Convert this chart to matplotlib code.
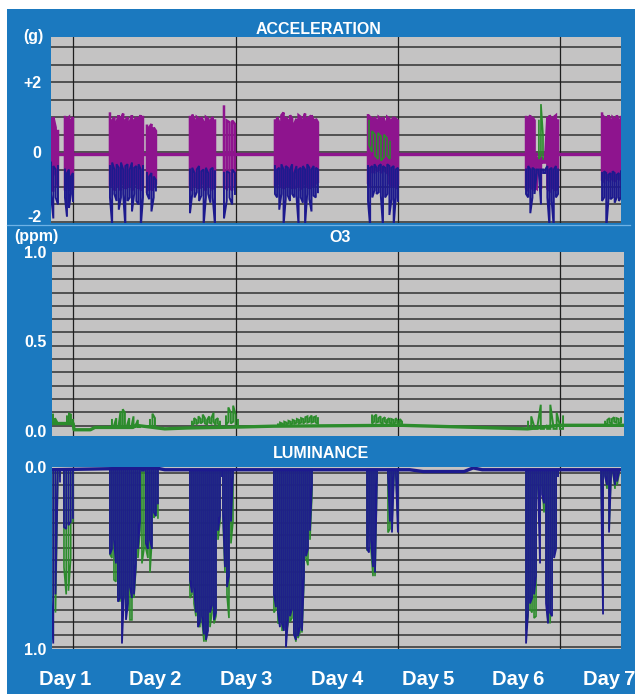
import numpy as np
import matplotlib as mpl
mpl.use("Agg")
import matplotlib.pyplot as plt
from matplotlib.patches import Rectangle
from matplotlib.lines import Line2D

plt.rcParams["font.family"] = ["Liberation Sans", "DejaVu Sans"]

# ---------------- data (time in days) ----------------
DAY_POS = [1, 2, 3, 4, 5, 6, 7]
DAY_LABELS = ["Day\u20091", "Day\u20092", "Day\u20093", "Day\u20094", "Day\u20095", "Day\u20096", "Day\u20097"]

# acceleration (g): resting level and active bursts (per-sample high / low)
ACC_REST = -0.05
ACC_SPANS = [(0.846, 0.923), (1.000, 1.088), (1.496, 1.860), (1.904, 2.003),
             (2.378, 2.654), (2.753, 2.874), (3.315, 3.789), (4.341, 4.671),
             (6.083, 6.436), (6.921, 7.130)]
MAG_HI = [
    [0.95, 1.0, 0.7, 0.6],
    [1.0, 0.95, 1.0, 0.9, 1.0],
    [1.1, 0.9, 1.0, 0.85, 1.05, 0.95, 1.1, 0.9, 1.0, 0.85, 1.05, 0.9, 1.0, 0.95, 1.05, 1.0],
    [0.75, 0.7, 0.8, 0.7, 0.6],
    [1.0, 1.07, 0.9, 1.0, 0.95, 1.0, 0.85, 1.0, 0.95, 0.9, 1.0, 0.9],
    [1.3, 0.9, 0.85, 0.9, 0.8],
    [0.9, 1.0, 0.85, 1.05, 1.13, 1.0, 0.9, 1.05, 0.95, 0.8, 0.95, 1.05, 1.0, 0.9, 1.1,
     0.95, 1.0, 1.05, 0.9, 0.95, 0.85],
    [1.05, 1.0, 0.95, 1.0, 0.9, 1.0, 0.95, 1.0, 0.85, 1.0, 0.95, 0.9, 1.0, 0.95, 0.9],
    [1.0, 0.95, 1.05, 1.0, 0.9, -0.15, -0.2, -0.15, -0.2, -0.15, 1.0, 1.05, 0.95, 1.0, 1.05, 0.9],
    [1.1, 1.0, 0.95, 1.05, 0.9, 1.0, 0.95, 1.05, 0.9, 1.0],
]
MAG_LO = [
    [-1.1, -1.1, -0.6, -1.0],
    [-1.1, -1.0, -1.1, -1.0, -1.05],
    [-1.0, -0.9, -1.1, -0.95, -1.0, -1.1, -0.9, -1.05, -1.0, -0.95, -1.1, -1.0, -0.9, -1.05, -1.1, -1.0],
    [-1.1, -1.05, -1.1, -1.0, -0.9],
    [-1.0, -1.1, -0.95, -1.0, -1.05, -0.9, -1.0, -1.1, -0.95, -1.0, -1.05, -1.0],
    [-1.0, -1.05, -1.0, -1.1, -0.95],
    [-0.95, -1.0, -0.9, -1.0, -1.05, -0.95, -1.0, -0.9, -1.05, -0.7, -1.0, -0.95, -1.05, -1.0, -0.9,
     -1.0, -1.05, -0.95, -1.0, -0.9, -0.85],
    [-0.9, -1.0, -0.6, -0.5, -0.55, -0.5, -0.6, -0.5, -0.55, -0.6, -0.9, -1.0, -0.95, -1.0, -0.9],
    [-1.05, -1.1, -1.0, -1.05, -1.0, -1.05, -0.3, -1.05, -0.3, -0.3, -1.05, -1.1, -1.0, -1.05, -1.1, -1.0],
    [-0.8, -0.85, -0.75, -0.8, -0.7, -0.8, -0.85, -0.75, -0.8, -0.7],
]
BLU_HI = [
    [-0.3, -0.4, -0.5, -0.4],
    [-0.5, -0.6, -0.5, -0.7, -0.6],
    [-0.4, -0.3, -0.5, -0.35, -0.45, -0.3, -0.5, -0.4, -0.35, -0.5, -0.3, -0.45, -0.4, -0.35, -0.5, -0.4],
    [-0.6, -0.7, -0.6, -0.7, -0.8],
    [-0.5, -0.45, -0.6, -0.5, -0.4, -0.55, -0.5, -0.45, -0.6, -0.5, -0.45, -0.55],
    [-0.6, -0.55, -0.6, -0.5, -0.6],
    [-0.4, -0.5, -0.45, -0.35, -0.5, -0.4, -0.45, -0.5, -0.35, -0.6, -0.4, -0.5, -0.45, -0.4, -0.5,
     -0.35, -0.45, -0.5, -0.4, -0.45, -0.5],
    [-0.4, -0.45, -0.4, -0.35, -0.45, -0.4, -0.35, -0.4, -0.45, -0.35, -0.4, -0.45, -0.4, -0.5, -0.45],
    [-0.5, -0.4, -0.5, -0.45, -0.5, -0.5, -0.5, -0.5, -0.5, -0.5, -0.4, -0.5, -0.45, -0.5, -0.4, -0.5],
    [-0.6, -0.55, -0.6, -0.65, -0.6, -0.55, -0.6, -0.65, -0.6, -0.55],
]
BLU_LO = [
    [-1.2, -1.9, -1.3, -1.5],
    [-1.3, -1.85, -1.6, -1.2, -1.4],
    [-1.3, -2.1, -1.2, -1.4, -1.65, -1.3, -1.2, -2.15, -1.4, -1.3, -1.7, -1.2, -1.4, -1.5, -2.15, -1.3],
    [-1.2, -1.35, -1.7, -1.3, -1.1],
    [-1.75, -1.2, -1.3, -1.15, -1.4, -1.25, -2.1, -1.3, -1.2, -1.45, -1.3, -2.1],
    [-1.9, -1.4, -1.3, -1.5, -1.2],
    [-1.2, -1.3, -1.65, -1.2, -2.1, -1.35, -1.25, -1.4, -1.2, -1.3, -1.25, -2.1, -1.3, -1.45, -2.1,
     -1.2, -1.35, -1.7, -1.25, -1.3, -1.15],
    [-1.4, -2.15, -1.3, -1.1, -1.2, -1.15, -1.25, -2.15, -1.3, -1.2, -1.8, -1.35, -2.1, -1.3, -1.4],
    [-1.2, -1.3, -1.75, -1.3, -1.2, -0.6, -0.6, -1.5, -0.6, -0.6, -1.3, -2.15, -1.4, -2.15, -1.3, -1.2],
    [-1.4, -1.3, -2.2, -1.4, -1.35, -1.3, -1.45, -1.3, -1.4, -1.3],
]
GRN_SPANS = [(4.352, 4.583), (6.225, 6.270)]
GRN_HI = [[0.9, 0.6, 0.5, 0.55, 0.45, 0.5, 0.4, 0.3], [0.9, 1.37, 0.5]]
GRN_LO = [[0.2, 0.0, -0.1, -0.2, -0.25, -0.15, -0.1, -0.2], [-0.2, -0.1, -0.2]]

# O3 (ppm): resting line and noisy episodes
O3_REST_T = [0.857, 1.09, 1.10, 1.28, 1.33, 1.75, 1.78, 2.10, 2.35, 2.90, 3.30, 4.70, 6.10, 6.45, 7.163]
O3_REST_V = [0.04, 0.04, 0.005, 0.005, 0.018, 0.018, 0.03, 0.01, 0.015, 0.02, 0.025, 0.03, 0.01, 0.03, 0.03]
O3_SPANS = [(0.868, 0.912), (1.022, 1.088), (1.518, 1.827), (1.937, 1.992), (2.400, 2.709),
            (2.775, 2.907), (3.348, 3.789), (4.385, 4.716), (6.105, 6.491), (6.954, 7.130)]
O3_HI = [
    [0.09, 0.07, 0.05],
    [0.08, 0.095, 0.09, 0.06],
    [0.06, 0.03, 0.07, 0.02, 0.11, 0.12, 0.10, 0.03, 0.07, 0.02, 0.08, 0.03, 0.06, 0.02],
    [0.06, 0.095, 0.07],
    [0.05, 0.07, 0.06, 0.08, 0.065, 0.09, 0.07, 0.06, 0.08, 0.07, 0.1, 0.06, 0.07, 0.05],
    [0.08, 0.13, 0.1, 0.14, 0.09, 0.06],
    [0.035, 0.045, 0.04, 0.05, 0.045, 0.055, 0.05, 0.06, 0.055, 0.065, 0.06, 0.07, 0.065, 0.075,
     0.08, 0.07, 0.085, 0.075, 0.08, 0.07],
    [0.085, 0.08, 0.09, 0.07, 0.08, 0.065, 0.075, 0.06, 0.07, 0.065, 0.06, 0.07, 0.055, 0.065, 0.05],
    [0.05, 0.08, 0.02, 0.03, 0.145, 0.02, 0.03, 0.145, 0.02, 0.10, 0.03, 0.08],
    [0.05, 0.06, 0.07, 0.065, 0.075, 0.07, 0.065, 0.07],
]
O3_LO = [
    [0.04, 0.04, 0.04],
    [0.04, 0.05, 0.04, 0.04],
    [0.02, 0.02, 0.02, 0.02, 0.02, 0.02, 0.02, 0.02, 0.02, 0.02, 0.02, 0.02, 0.02, 0.02],
    [0.02, 0.03, 0.02],
    [0.03, 0.04, 0.035, 0.045, 0.04, 0.05, 0.04, 0.035, 0.045, 0.04, 0.05, 0.03, 0.04, 0.02],
    [0.03, 0.05, 0.04, 0.05, 0.03, 0.02],
    [0.03, 0.03, 0.035, 0.03, 0.035, 0.04, 0.035, 0.04, 0.04, 0.045, 0.04, 0.045, 0.04, 0.05,
     0.045, 0.05, 0.045, 0.05, 0.045, 0.04],
    [0.04, 0.05, 0.045, 0.05, 0.045, 0.04, 0.05, 0.04, 0.045, 0.04, 0.04, 0.045, 0.035, 0.04, 0.03],
    [0.01, 0.01, 0.01, 0.01, 0.01, 0.01, 0.01, 0.01, 0.01, 0.01, 0.01, 0.01],
    [0.035, 0.04, 0.045, 0.04, 0.05, 0.045, 0.04, 0.045],
]

# luminance (normalised, axis inverted): resting line and dips
LUM_REST_T = [0.857, 2.0, 2.1, 4.8, 4.95, 5.4, 5.5, 5.6, 7.13]
LUM_REST_V = [0.015, 0.005, 0.015, 0.015, 0.025, 0.025, 0.005, 0.015, 0.015]
LUM_SPANS = [(0.846, 0.945), (0.989, 1.088), (1.496, 2.025), (2.378, 2.731), (2.742, 2.852),
             (3.304, 3.723), (4.330, 4.440), (4.561, 4.671), (6.083, 6.436), (6.910, 7.108)]
LUM_BLUE = [
    [0.72, 0.97, 0.7, 0.06, 0.08],
    [0.33, 0.34, 0.32, 0.3, 0.28],
    [0.48, 0.45, 0.40, 0.53, 0.74, 0.72, 0.97, 0.70, 0.84, 0.75, 0.66, 0.72, 0.70, 0.53, 0.45,
     0.30, 0.02, 0.02, 0.42, 0.45, 0.40, 0.45, 0.25, 0.27, 0.20],
    [0.62, 0.69, 0.66, 0.80, 0.88, 0.85, 0.82, 0.92, 0.95, 0.90, 0.80, 0.76, 0.84, 0.80, 0.35, 0.27, 0.05],
    [0.25, 0.55, 0.66, 0.60, 0.30, 0.05],
    [0.70, 0.77, 0.80, 0.88, 0.86, 0.90, 0.99, 0.84, 0.82, 0.78, 0.92, 0.95, 0.93, 0.88, 0.90,
     0.60, 0.49, 0.45, 0.35, 0.10],
    [0.45, 0.47, 0.40, 0.55, 0.58, 0.05],
    [0.05, 0.30, 0.36, 0.03, 0.05, 0.36],
    [0.97, 0.80, 0.75, 0.72, 0.70, 0.60, 0.10, 0.53, 0.15, 0.20, 0.75, 0.86, 0.80, 0.82, 0.50, 0.45, 0.05],
    [0.05, 0.81, 0.05, 0.10, 0.36, 0.05, 0.03, 0.10, 0.08, 0.03],
]
LUM_GREEN = [
    [0.84, 0.95, 0.8, 0.05, 0.05],
    [0.55, 0.70, 0.68, 0.5, 0.3],
    [0.48, 0.50, 0.62, 0.63, 0.70, 0.74, 0.75, 0.72, 0.80, 0.78, 0.84, 0.84, 0.72, 0.55, 0.50,
     0.35, 0.53, 0.45, 0.45, 0.50, 0.58, 0.40, 0.28, 0.25, 0.28],
    [0.72, 0.70, 0.75, 0.82, 0.86, 0.88, 0.84, 0.96, 0.96, 0.85, 0.88, 0.80, 0.86, 0.82, 0.40, 0.30, 0.05],
    [0.28, 0.58, 0.70, 0.83, 0.42, 0.30],
    [0.80, 0.78, 0.86, 0.85, 0.90, 0.88, 0.92, 0.86, 0.85, 0.83, 0.90, 0.96, 0.94, 0.91, 0.91,
     0.62, 0.50, 0.54, 0.40, 0.15],
    [0.46, 0.30, 0.45, 0.60, 0.60, 0.05],
    [0.36, 0.34, 0.30, 0.04, 0.04, 0.30],
    [0.90, 0.82, 0.78, 0.80, 0.83, 0.82, 0.12, 0.30, 0.09, 0.25, 0.70, 0.85, 0.86, 0.60, 0.49, 0.40, 0.05],
    [0.03, 0.70, 0.04, 0.12, 0.34, 0.04, 0.03, 0.12, 0.10, 0.04],
]

# ---------------- style ----------------
C_FRAME = "#1b79bf"
C_PANEL = "#c4c3c3"
C_HGRID = "#474747"
C_VGRID = "#1e1e1e"
C_MAG = "#8e148e"
C_NAVY = "#1d1a8e"
C_GREEN = "#2c8c2c"
VGRID = [1.088, 2.885, 4.671, 6.458]
W, H = 635, 694


def strokes(ax, span, a, b, **kw):
    """Dense vertical strokes a<->b per sample (min/max style trace)."""
    t = np.linspace(span[0], span[1], len(a))
    y = [v for i, (p, q) in enumerate(zip(a, b)) for v in ((p, q) if i % 2 == 0 else (q, p))]
    ax.plot(np.repeat(t, 2), y, solid_joinstyle="miter", **kw)


def panel(rect_px, xlim, ylim, hgrid):
    l, t, r, b = rect_px
    ax = fig.add_axes([l / W, 1 - b / H, (r - l) / W, (b - t) / H])
    ax.set_zorder(2)
    ax.set_facecolor(C_PANEL)
    ax.set_xlim(*xlim)
    ax.set_ylim(*ylim)
    for s in ax.spines.values():
        s.set_visible(False)
    for g in hgrid:
        ax.axhline(g, color=C_HGRID, lw=1.3, zorder=1)
    for g in VGRID:
        ax.axvline(g, color=C_VGRID, lw=0.9, zorder=1)
    ax.set_xticks([])
    ax.tick_params(axis="y", length=0, labelcolor="white", labelsize=11.5)
    return ax


fig = plt.figure(figsize=(W / 100, H / 100), dpi=100, facecolor="white")
fig.patches.append(Rectangle((7 / W, 0), (W - 7) / W, (H - 9) / H, transform=fig.transFigure,
                             facecolor=C_FRAME, edgecolor="none", zorder=-5))
fig.lines.append(Line2D([7 / W, 630 / W], [1 - 225 / H, 1 - 225 / H], transform=fig.transFigure,
                        color="#6fb2e6", lw=0.9, zorder=-4))

# ---- acceleration ----
ax1 = panel((51, 37, 621, 223), (0.846, 7.13), (-2.03, 3.29), np.arange(-2.0, 3.01, 0.5))
ax1.axhline(ACC_REST, color=C_MAG, lw=2.4, zorder=2)
for sp, hi, lo in zip(ACC_SPANS, MAG_HI, MAG_LO):
    strokes(ax1, sp, hi, lo, color=C_MAG, lw=1.8, zorder=3)
for sp, hi, lo in zip(ACC_SPANS, BLU_HI, BLU_LO):
    strokes(ax1, sp, hi, lo, color=C_NAVY, lw=1.4, zorder=4)
for sp, hi, lo in zip(GRN_SPANS, GRN_HI, GRN_LO):
    strokes(ax1, sp, hi, lo, color=C_GREEN, lw=1.2, zorder=5)
ax1.set_yticks([-1.83, 0, 2], ["-2", "0", "+2"], fontweight="bold")
ax1.tick_params(axis="y", pad=7)

# ---- O3 ----
ax2 = panel((52, 252, 624, 436), (0.857, 7.163), (-0.03, 1.0), [0.028 + 0.0745 * i for i in range(13)])
ax2.plot(O3_REST_T, O3_REST_V, color=C_GREEN, lw=2.4, zorder=3)
for sp, hi, lo in zip(O3_SPANS, O3_HI, O3_LO):
    strokes(ax2, sp, hi, lo, color=C_GREEN, lw=1.4, zorder=3)
ax2.set_yticks([0.0, 0.5, 1.0], ["0.0", "0.5", "1.0"], fontweight="bold")
ax2.tick_params(axis="y", pad=4)

# ---- luminance ----
ax3 = panel((52, 467, 621, 649), (0.857, 7.13), (1.0, 0.0), [0.033 + 0.0683 * i for i in range(15)])
rest = np.interp([s for sp in LUM_SPANS for s in sp], LUM_REST_T, LUM_REST_V)
for i, (sp, g) in enumerate(zip(LUM_SPANS, LUM_GREEN)):
    strokes(ax3, sp, [rest[2 * i]] * len(g), g, color=C_GREEN, lw=1.2, zorder=3)
for i, (sp, bl) in enumerate(zip(LUM_SPANS, LUM_BLUE)):
    strokes(ax3, sp, [rest[2 * i]] * len(bl), bl, color=C_NAVY, lw=1.3, zorder=4)
ax3.plot(LUM_REST_T, LUM_REST_V, color=C_NAVY, lw=2.4, zorder=5)
ax3.set_yticks([0.0, 1.0], ["0.0", "1.0"], fontweight="bold")
ax3.tick_params(axis="y", pad=4)
ax3.set_xticks(DAY_POS, DAY_LABELS)
ax3.tick_params(axis="x", length=0, pad=15, labelcolor="white", labelsize=14.5)
for lab in ax3.get_xticklabels():
    lab.set_fontweight("bold")

# titles and units
txt = dict(color="white", fontweight="bold", ha="center", va="center")
fig.text(319 / W, 1 - 29 / H, "ACCELERATION", fontsize=11.5, **txt)
fig.text(340 / W, 1 - 238 / H, "O3", fontsize=11.5, **txt)
fig.text(321 / W, 1 - 454 / H, "LUMINANCE", fontsize=11.5, **txt)
fig.text(33 / W, 1 - 36 / H, "(g)", fontsize=11.5, **txt)
fig.text(36 / W, 1 - 236 / H, "(ppm)", fontsize=11.5, **txt)

fig.savefig("out.png", dpi=100, facecolor="white")
